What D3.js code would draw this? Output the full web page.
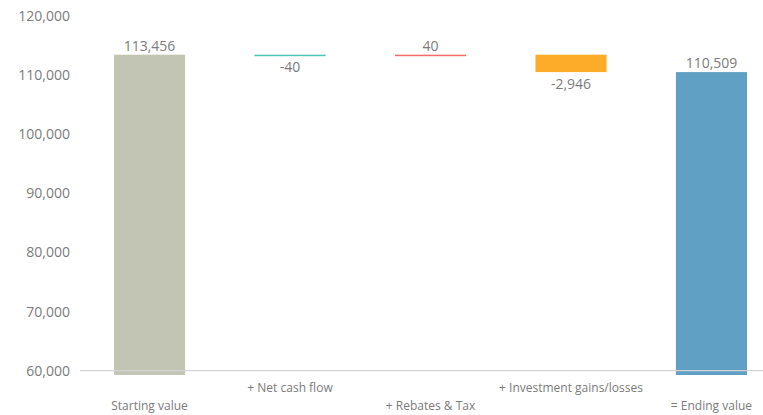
<!DOCTYPE html>
<html>
<head>
<meta charset="utf-8">
<script src="https://cdn.jsdelivr.net/npm/d3@7"></script>
<style>
  body { margin: 0; background: #fff; }
  text { font-family: "Open Sans", "Noto Sans", sans-serif; fill: #7b7b7b; }
</style>
</head>
<body>
<div id="chart"></div>
<script>
// waterfall data
const categories = ["Starting value", "+ Net cash flow", "+ Rebates & Tax", "+ Investment gains/losses", "= Ending value"];
const values = [113456, -40, 40, -2946, 110509];
const kinds = ["total", "delta", "delta", "delta", "total"];
const colors = ["#c2c5b4", "#4fc4ae", "#f56b6b", "#fdac2a", "#5fa0c4"];
const yTicks = [60000, 70000, 80000, 90000, 100000, 110000, 120000];

const width = 763, height = 415;

const svg = d3.select("#chart").append("svg")
    .attr("width", width)
    .attr("height", height);

// build the running steps
let running = 0;
const bars = categories.map(function(c, i) {
    let start, end;
    if (kinds[i] === "total") {
        start = null; end = values[i];
        running = values[i];
    } else {
        start = running; end = running + values[i];
        running = end;
    }
    return {name: c, value: values[i], kind: kinds[i], start: start, end: end, color: colors[i], i: i};
});

const x = d3.scaleBand()
    .domain(categories)
    .range([114, 747])
    .paddingInner(0.494)
    .paddingOuter(0);

const y = d3.scaleLinear()
    .domain([59270, 120000])
    .range([375, 16]);

// plain hyphen for negatives, like the original
const fmt = d3.formatLocale({decimal: ".", thousands: ",", grouping: [3], currency: ["", ""], minus: "-"}).format(",.0f");

// y axis labels
const yAxis = svg.append("g")
    .attr("transform", "translate(70,0)")
    .call(d3.axisLeft(y).tickValues(yTicks).tickSize(0).tickPadding(0).tickFormat(fmt));
yAxis.select(".domain").remove();
yAxis.selectAll("text")
    .style("font-size", "14px")
    .attr("fill", "#7b7b7b");

// bars
svg.selectAll(".bar")
    .data(bars)
    .enter()
    .append("rect")
    .attr("class", "bar")
    .attr("x", d => x(d.name))
    .attr("width", x.bandwidth())
    .attr("y", function(d) {
        if (d.kind === "total") return y(d.end);
        return y(Math.max(d.start, d.end));
    })
    .attr("height", function(d) {
        if (d.kind === "total") return y.range()[0] - y(d.end);
        return Math.max(1.5, Math.abs(y(d.start) - y(d.end)));
    })
    .attr("fill", d => d.color);

// baseline at 60,000
svg.append("line")
    .attr("x1", 80)
    .attr("x2", width)
    .attr("y1", y(60000))
    .attr("y2", y(60000))
    .attr("stroke", "#d3d3d3")
    .attr("stroke-width", 1.2);

// value labels
svg.selectAll(".val")
    .data(bars)
    .enter()
    .append("text")
    .attr("class", "val")
    .attr("x", d => x(d.name) + x.bandwidth() / 2)
    .attr("y", function(d) {
        if (d.kind === "total") return y(d.end) - 4;
        if (d.value >= 0) return y(d.end) - 4;
        return y(d.end) + 17;
    })
    .attr("text-anchor", "middle")
    .style("font-size", "14px")
    .text(d => fmt(d.value));

// category labels, staggered
svg.selectAll(".cat")
    .data(bars)
    .enter()
    .append("text")
    .attr("class", "cat")
    .attr("x", d => x(d.name) + x.bandwidth() / 2)
    .attr("y", d => d.i % 2 === 0 ? 410 : 392)
    .attr("text-anchor", "middle")
    .style("font-size", "12px")
    .text(d => d.name);
</script>
</body>
</html>
